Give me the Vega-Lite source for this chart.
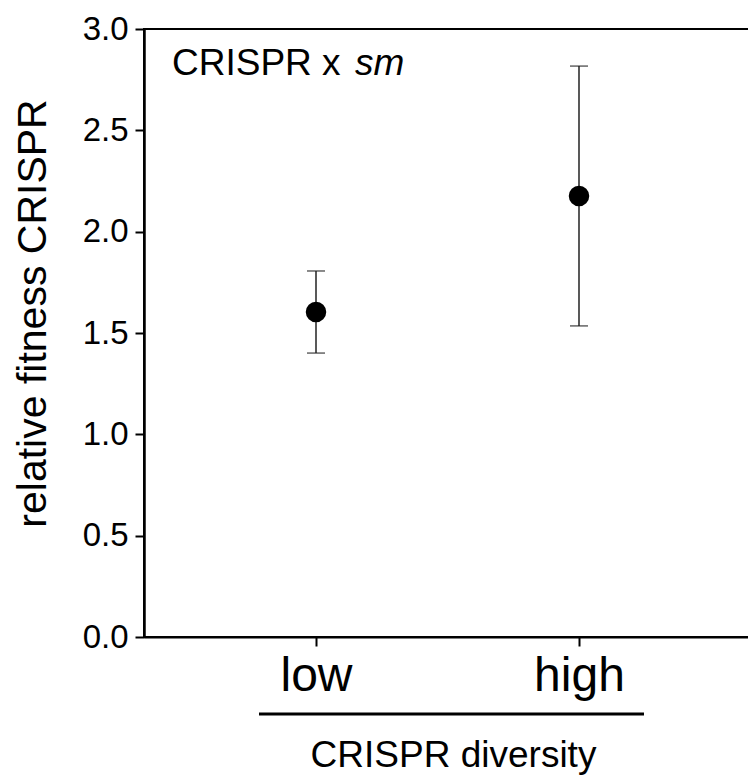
{
  "$schema": "https://vega.github.io/schema/vega-lite/v6.json",
  "autosize": "none",
  "width": 607,
  "height": 608,
  "padding": {"left": 144, "top": 29, "right": 0, "bottom": 141},
  "background": "white",
  "config": {
    "font": "Liberation Sans",
    "view": {"stroke": "black", "strokeWidth": 2},
    "axis": {"grid": false, "domainColor": "black", "tickColor": "black", "labelColor": "black", "titleColor": "black", "titleFontWeight": "normal"}
  },
  "data": {"values": [
    {"diversity": "low", "fitness": 1.604, "lower": 1.401, "upper": 1.806},
    {"diversity": "high", "fitness": 2.176, "lower": 1.535, "upper": 2.817}
  ]},
  "layer": [
    {
      "mark": {"type": "rule", "color": "#222", "strokeWidth": 1.5},
      "encoding": {
        "x": {
          "field": "diversity", "type": "nominal",
          "scale": {"type": "point", "domain": ["low", "high"], "padding": 0.654},
          "axis": {
            "title": "CRISPR diversity", "titleFontSize": 37, "titlePadding": 37, "titleX": 309,
            "labelFontSize": 48, "labelAngle": 0, "labelPadding": 6, "tickSize": 9, "tickWidth": 2, "domainWidth": 2
          }
        },
        "y": {
          "field": "lower", "type": "quantitative",
          "scale": {"domain": [0, 3], "nice": false, "zero": true},
          "axis": {
            "title": "relative fitness CRISPR", "titleFontSize": 41, "titlePadding": 28, "titleY": 284,
            "values": [0, 0.5, 1, 1.5, 2, 2.5, 3], "format": ".1f",
            "labelFontSize": 33, "labelPadding": 7, "tickSize": 9, "tickWidth": 2, "domainWidth": 2.5
          }
        },
        "y2": {"field": "upper"}
      }
    },
    {
      "mark": {"type": "tick", "color": "#222", "thickness": 1.5, "size": 18},
      "encoding": {
        "x": {"field": "diversity", "type": "nominal"},
        "y": {"field": "lower", "type": "quantitative"}
      }
    },
    {
      "mark": {"type": "tick", "color": "#222", "thickness": 1.5, "size": 18},
      "encoding": {
        "x": {"field": "diversity", "type": "nominal"},
        "y": {"field": "upper", "type": "quantitative"}
      }
    },
    {
      "mark": {"type": "point", "filled": true, "color": "black", "opacity": 1, "size": 420},
      "encoding": {
        "x": {"field": "diversity", "type": "nominal"},
        "y": {"field": "fitness", "type": "quantitative"}
      }
    },
    {
      "data": {"values": [{"from": "low", "to": "high"}]},
      "mark": {"type": "rule", "color": "black", "strokeWidth": 3, "y": 685, "xOffset": -57, "x2Offset": 65},
      "encoding": {
        "x": {"field": "from", "type": "nominal"},
        "x2": {"field": "to"}
      }
    },
    {
      "data": {"values": [{"label": "CRISPR x"}]},
      "mark": {"type": "text", "x": 28, "y": 46, "align": "left", "baseline": "alphabetic", "fontSize": 37, "color": "black"},
      "encoding": {"text": {"field": "label"}}
    },
    {
      "data": {"values": [{"label": "sm"}]},
      "mark": {"type": "text", "x": 211, "y": 46, "align": "left", "baseline": "alphabetic", "fontSize": 37, "fontStyle": "italic", "color": "black"},
      "encoding": {"text": {"field": "label"}}
    }
  ]
}
